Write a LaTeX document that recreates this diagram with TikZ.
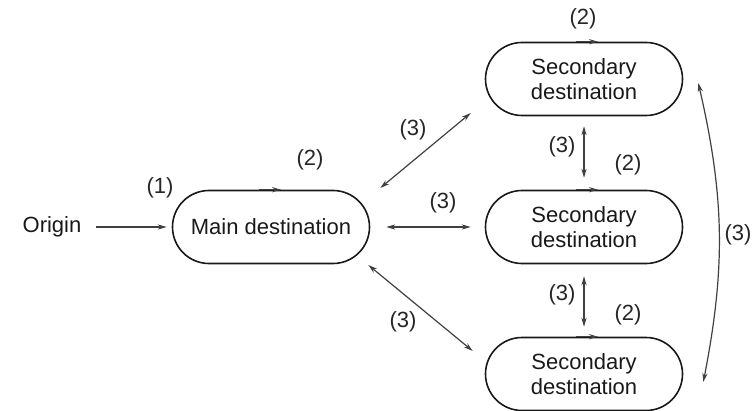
\documentclass[tikz,border=0pt]{standalone}
\usepackage{fontspec}
\setmainfont{Liberation Sans}
\usepackage{tikz}
\usetikzlibrary{arrows.meta,shapes.misc,positioning}
\tikzset{>={Stealth[length=4.5pt,width=2.6pt]}}
\tikzset{
  dest/.style={rounded rectangle, draw=black!90, thick, minimum width=98.5pt, minimum height=36.5pt, align=center, inner sep=0pt, text=black!90},
  link/.style={<->, draw=black!75, semithick},
  flow/.style={->, draw=black!75, semithick},
  lbl/.style={text=black!85}
}

\begin{document}
\begin{tikzpicture}[x=0.5pt,y=-0.5pt,font=\fontsize{11}{12.6}\selectfont]
                \useasboundingbox (0,0) rectangle (753,411);

                \node[text=black!90] (origin) at (52,227) {Origin};
                \node[dest] (main) at (271,227) {Main destination};
                \node[dest] (sectop) at (584,79) {Secondary\\destination};
                \node[dest] (secmid) at (584,227) {Secondary\\destination};
                \node[dest] (secbot) at (584,374) {Secondary\\destination};

                \draw[flow, shorten <=4pt, shorten >=2.5pt] (origin.east) -- (main.west);

                % ticks on the top edges
                \draw[flow] ([xshift=-6pt]main.north) -- ([xshift=5pt]main.north);
                \draw[flow] ([xshift=-4pt]sectop.north) -- ([xshift=7pt]sectop.north);
                \draw[flow] ([xshift=-4pt]secmid.north) -- ([xshift=7pt]secmid.north);
                \draw[flow] ([xshift=-4pt]secbot.north) -- ([xshift=7pt]secbot.north);

                \draw[link] ([xshift=5pt,yshift=19.5pt]main.east) -- ([xshift=-7pt,yshift=-17pt]sectop.west);
                \draw[link, shorten <=8pt, shorten >=7pt] (main.east) -- (secmid.west);
                \draw[link] ([xshift=-1pt,yshift=-19pt]main.east) -- ([xshift=-6pt,yshift=11.5pt]secbot.west);

                \draw[link, shorten <=5pt, shorten >=6pt] (sectop.south) -- (secmid.north);
                \draw[link, shorten <=6pt, shorten >=5pt] (secmid.south) -- (secbot.north);

                \draw[link] ([xshift=7.5pt,yshift=-2pt]sectop.east) to[bend left=12] ([xshift=10pt,yshift=-4pt]secbot.east);

                \node[lbl] (l1) at (160,188) {(1)};
                \node[lbl] (l2main) at (310,160) {(2)};
                \node[lbl] (l2top) at (583,19) {(2)};
                \node[lbl] (l2mid) at (628,165) {(2)};
                \node[lbl] (l2bot) at (628,315) {(2)};
                \node[lbl] (l3up) at (413,130) {(3)};
                \node[lbl] (l3hor) at (443,203) {(3)};
                \node[lbl] (l3low) at (403,322) {(3)};
                \node[lbl] (l3tm) at (562,147) {(3)};
                \node[lbl] (l3mb) at (562,295) {(3)};
                \node[lbl] (l3arc) at (738,235) {(3)};
            \end{tikzpicture}
\end{document}
